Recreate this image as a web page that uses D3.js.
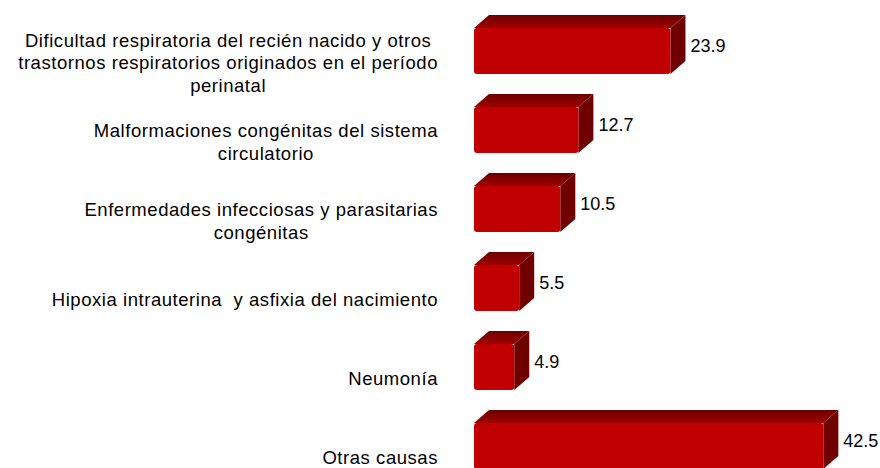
<!DOCTYPE html>
<html>
<head>
<meta charset="utf-8">
<script src="https://cdn.jsdelivr.net/npm/d3@7"></script>
<style>
  body { margin: 0; background: #fff; }
  svg text { font-family: "Liberation Sans", Arial, sans-serif; fill: #000; white-space: pre; }
</style>
</head>
<body>
<div id="chart"></div>
<script>
// categories (line breaks as in the original chart)
const categories = [
  "Dificultad respiratoria del recién nacido y otros\ntrastornos respiratorios originados en el período\nperinatal",
  "Malformaciones congénitas del sistema\ncirculatorio",
  "Enfermedades infecciosas y parasitarias\ncongénitas",
  "Hipoxia intrauterina  y asfixia del nacimiento",
  "Neumonía",
  "Otras causas"
];
const values = [23.9, 12.7, 10.5, 5.5, 4.9, 42.5];

const width = 880;
const height = 468;
const depthX = 15;   // 3d offset of the bars
const depthY = 13;

const svg = d3.select("#chart")
  .append("svg")
  .attr("width", width)
  .attr("height", height);

// gradient for the top faces, darker towards the back
const grad = svg.append("defs")
  .append("linearGradient")
  .attr("id", "topGrad")
  .attr("x1", 0).attr("y1", 0)
  .attr("x2", 0).attr("y2", 1);
grad.append("stop").attr("offset", "0%").attr("stop-color", "#6c0000");
grad.append("stop").attr("offset", "100%").attr("stop-color", "#a00000");

// scales
const x = d3.scaleLinear()
  .domain([0, 45])
  .range([474, 474 + 45 * 8.22]);

const y = d3.scaleBand()
  .domain(d3.range(categories.length))
  .range([11.5, 485.5])
  .paddingInner(0.418)
  .paddingOuter(0.209);

const bars = svg.selectAll(".bar")
  .data(values)
  .enter()
  .append("g")
  .attr("class", "bar");

// top face
bars.append("path")
  .attr("fill", "url(#topGrad)")
  .attr("d", (d, i) => {
    const x0 = x(0), x1 = x(d), y0 = y(i);
    return `M${x0},${y0}L${x0 + depthX},${y0 - depthY}L${x1 + depthX},${y0 - depthY}L${x1},${y0}Z`;
  });

// right side face
bars.append("path")
  .attr("fill", "#6e0000")
  .attr("d", (d, i) => {
    const x1 = x(d), y0 = y(i), y1 = y(i) + y.bandwidth();
    return `M${x1},${y0}L${x1 + depthX},${y0 - depthY}L${x1 + depthX},${y1 - depthY}L${x1},${y1}Z`;
  });

// front face
bars.append("rect")
  .attr("x", x(0))
  .attr("y", (d, i) => y(i))
  .attr("width", d => x(d) - x(0))
  .attr("height", y.bandwidth())
  .attr("rx", 3)
  .attr("fill", "#c00000");

// value labels
svg.selectAll(".value")
  .data(values)
  .enter()
  .append("text")
  .attr("class", "value")
  .attr("x", d => x(d) + depthX + 5)
  .attr("y", (d, i) => y(i) + y.bandwidth() / 2 - 5)
  .attr("dy", "0.35em")
  .style("font-size", "18px")
  .text(d => d.toFixed(1));

// category labels: block right-aligned, lines centred inside it
const labelRight = 438;
const lineHeight = 22.5;

categories.forEach((c, i) => {
  const lines = c.split("\n");
  const g = svg.append("g").attr("class", "cat");
  const texts = lines.map((line, j) => g.append("text")
    .attr("y", y(i) + y.bandwidth() / 2 + 12 + (j - (lines.length - 1) / 2) * lineHeight)
    .attr("dy", "0.35em")
    .attr("text-anchor", "middle")
    .style("font-size", "18.5px")
    .style("letter-spacing", "0.55px")
    .text(line));
  const maxW = d3.max(texts, t => t.node().getComputedTextLength());
  texts.forEach(t => t.attr("x", labelRight - maxW / 2));
});
</script>
</body>
</html>
